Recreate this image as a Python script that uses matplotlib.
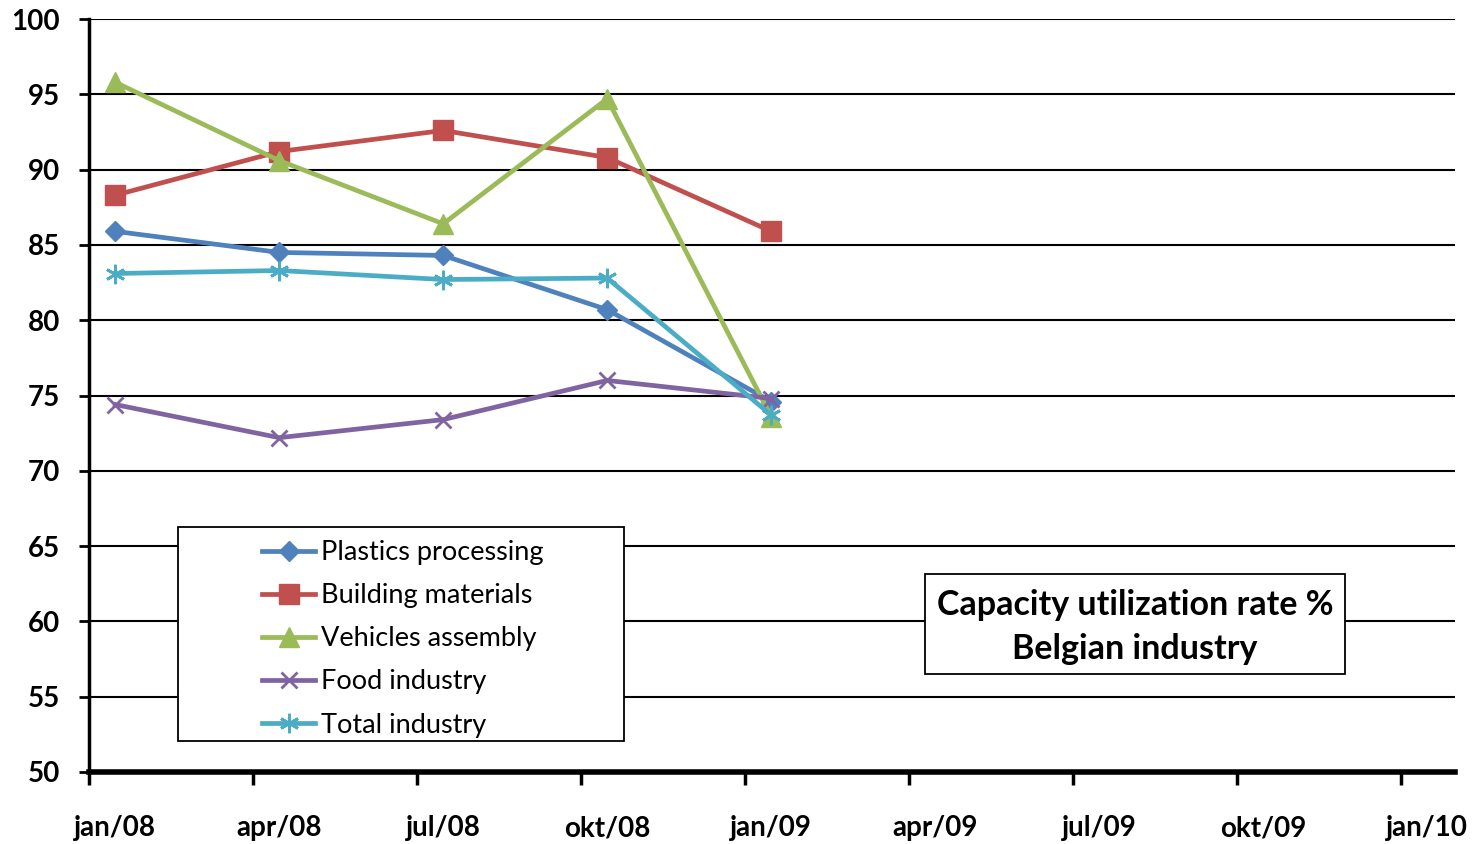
import matplotlib
matplotlib.use('Agg')
import matplotlib.pyplot as plt
import numpy as np

plt.rcParams['font.family'] = ['Lato', 'DejaVu Sans']

# donnees (taux d'utilisation des capacites, %)
mois = ['jan/08', 'apr/08', 'jul/08', 'okt/08', 'jan/09', 'apr/09', 'jul/09', 'okt/09', 'jan/10']
plastics = [85.9, 84.5, 84.3, 80.7, 74.6]
building = [88.3, 91.2, 92.6, 90.8, 85.9]
vehicles = [95.8, 90.6, 86.4, 94.7, 73.6]
food = [74.4, 72.2, 73.4, 76.0, 74.8]
total = [83.1, 83.3, 82.7, 82.8, 73.7]

noms = ['Plastics processing', 'Building materials', 'Vehicles assembly', 'Food industry', 'Total industry']
couleurs = ['#4F81BD', '#C0504D', '#9BBB59', '#8064A2', '#4BACC6']

decal = 0.16  # les points sont un peu a droite des graduations (axe date Excel)

fig = plt.figure(figsize=(14.82, 8.44), dpi=100)
ax = fig.add_axes([89/1482, 72/844, (1455-89)/1482, (772-19)/844])

x = np.arange(len(plastics)) + decal
series = [plastics, building, vehicles, food, total]
marqueurs = [('D', 10.5, 1), ('s', 14, 1), ('^', 15, 1), ('x', 12, 2), ((6, 2, 0), 14, 2)]
for s, nom, c, (m, ms, mew) in zip(series, noms, couleurs, marqueurs):
    ax.plot(x, s, color=c, lw=3.4, marker=m, markersize=ms, markeredgewidth=mew,
            markeredgecolor=c, markerfacecolor=c, label=nom, zorder=3)

ax.set_ylim(50, 100)
ax.set_xlim(0, 8.33)
ax.set_yticks(np.arange(50, 101, 5))
ax.yaxis.grid(True, color='black', lw=1.5)
ax.set_axisbelow(True)

ax.set_xticks(np.arange(9))
ax.set_xticklabels([])
ax.set_xticks(np.arange(9) + decal, minor=True)
ax.set_xticklabels(mois, minor=True)
ax.tick_params(axis='x', which='major', length=9, width=2.5, direction='out')
ax.tick_params(axis='x', which='minor', length=0, pad=31, labelsize=20)
ax.tick_params(axis='y', length=7, width=2, pad=14, labelsize=20)
for lab in ax.get_xticklabels(minor=True) + ax.get_yticklabels():
    lab.set_fontweight('bold')

for cote in ['top', 'right']:
    ax.spines[cote].set_visible(False)
ax.spines['left'].set_linewidth(2.5)
ax.spines['bottom'].set_linewidth(4)

# cadre de la legende dessine a part
cadre = plt.Rectangle(((178-89)/1366, (772-741)/753), (624-178)/1366, (741-527)/753,
                      transform=ax.transAxes, fc='white', ec='black', lw=1.3, zorder=4)
ax.add_patch(cadre)
leg = ax.legend(loc='upper left', bbox_to_anchor=((262-89)/1366, (772-540)/753),
                frameon=False, fontsize=19.5, handlelength=1.96, handletextpad=0.22,
                labelspacing=0.67, borderpad=0, borderaxespad=0)
leg.set_zorder(5)

# titre dans son cadre
cadre2 = plt.Rectangle(((925-89)/1366, (772-674)/753), (1345-925)/1366, (674-574)/753,
                       transform=ax.transAxes, fc='white', ec='black', lw=1.3, zorder=4)
ax.add_patch(cadre2)
ax.text((1135-89)/1366, (772-627)/753, 'Capacity utilization rate %\nBelgian industry',
        transform=ax.transAxes, ha='center', va='center', fontsize=24.5, fontweight='bold',
        linespacing=1.45, zorder=5)

fig.savefig('out.png', dpi=100)
